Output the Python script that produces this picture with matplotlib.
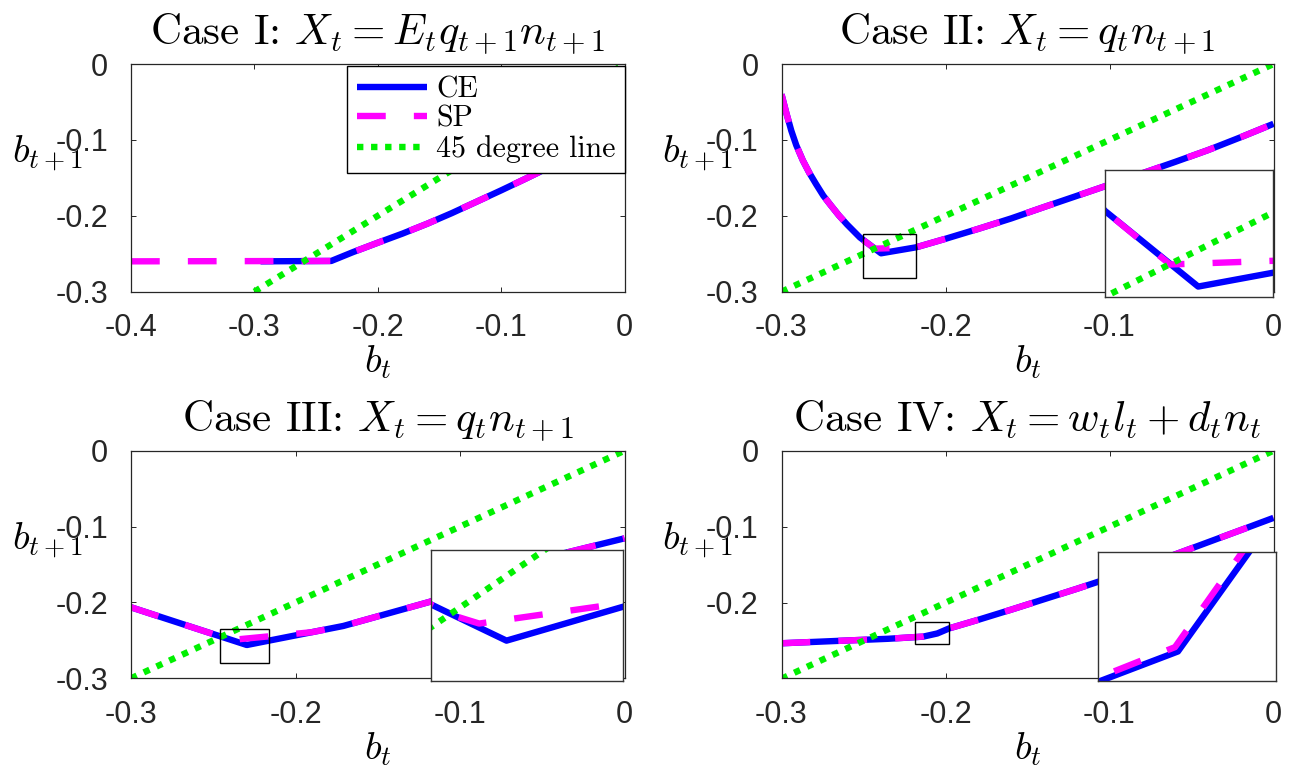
import matplotlib
matplotlib.use("Agg")
import matplotlib.pyplot as plt
from matplotlib.patches import Rectangle

plt.rcParams.update({
    "mathtext.fontset": "cm",
    "axes.unicode_minus": False,
    "font.family": ["Liberation Sans", "DejaVu Sans"],
})

# ---------------- data ----------------
diag_x = [-0.3, 0.0]
diag_y = [-0.3, 0.0]

# Case I
ce1_x = [-0.295, -0.2377, -0.22, -0.20, -0.18, -0.16, -0.14, -0.12, -0.10, -0.08, -0.06, -0.04, -0.02, 0.0]
ce1_y = [-0.260, -0.2595, -0.2478, -0.2355, -0.2235, -0.2105, -0.1965, -0.1815, -0.1665, -0.1510, -0.1352, -0.1195, -0.1025, -0.0850]
sp1_x = [-0.40, -0.2377, -0.22, -0.20, -0.18, -0.16, -0.14, -0.12, -0.10, -0.08, -0.06, -0.04, -0.02, 0.0]
sp1_y = [-0.260, -0.2595, -0.2478, -0.2355, -0.2235, -0.2105, -0.1965, -0.1815, -0.1665, -0.1510, -0.1352, -0.1195, -0.1025, -0.0850]

# Case II
ce2_x = [-0.300, -0.297, -0.294, -0.291, -0.287, -0.283, -0.279, -0.2745, -0.270, -0.265, -0.260, -0.2522,
         -0.2393, -0.2179, -0.200, -0.180, -0.160, -0.140, -0.120, -0.100, -0.080, -0.060, -0.040, -0.020, 0.000]
ce2_y = [-0.040, -0.065, -0.088, -0.107, -0.127, -0.1435, -0.158, -0.1735, -0.186, -0.1995, -0.2115, -0.2285,
         -0.2494, -0.2415, -0.2303, -0.2172, -0.2035, -0.1885, -0.1738, -0.1590, -0.1440, -0.1290, -0.1135, -0.0965, -0.0788]
sp2_x = [-0.300, -0.297, -0.294, -0.291, -0.287, -0.283, -0.279, -0.2745, -0.270, -0.265, -0.260, -0.2522,
         -0.2432, -0.2179, -0.200, -0.180, -0.160, -0.140, -0.120, -0.100, -0.080, -0.060, -0.040, -0.020, 0.000]
sp2_y = [-0.040, -0.065, -0.088, -0.107, -0.127, -0.1435, -0.158, -0.1735, -0.186, -0.1995, -0.2115, -0.2285,
         -0.2433, -0.2415, -0.2303, -0.2172, -0.2035, -0.1885, -0.1738, -0.1590, -0.1440, -0.1290, -0.1135, -0.0965, -0.0788]

# Case III
ce3_x = [-0.300, -0.2296, -0.1709, -0.1181, -0.059, 0.000]
ce3_y = [-0.2064, -0.2561, -0.2310, -0.1990, -0.1470, -0.1155]
sp3_x = [-0.300, -0.2440, -0.2372, -0.190, -0.1709, -0.1181, -0.059, 0.000]
sp3_y = [-0.2064, -0.2460, -0.2491, -0.2392, -0.2310, -0.1990, -0.1470, -0.1155]

# Case IV
ce4_x = [-0.300, -0.235, -0.2137, -0.205, -0.1976, -0.18, -0.16, -0.14, -0.12, -0.10, -0.08, -0.06, -0.04, -0.02, 0.0]
ce4_y = [-0.2534, -0.2475, -0.2447, -0.2405, -0.2337, -0.2225, -0.2092, -0.1955, -0.1818, -0.1675, -0.1520, -0.1365, -0.1205, -0.1045, -0.0884]
sp4_x = [-0.300, -0.235, -0.2139, -0.2053, -0.1976, -0.18, -0.16, -0.14, -0.12, -0.10, -0.08, -0.06, -0.04, -0.02, 0.0]
sp4_y = [-0.2534, -0.2475, -0.2446, -0.2404, -0.2337, -0.2225, -0.2092, -0.1955, -0.1818, -0.1675, -0.1520, -0.1365, -0.1205, -0.1045, -0.0884]

titles = [r"Case I: $X_t = E_t q_{t+1} n_{t+1}$",
          r"Case II: $X_t = q_t n_{t+1}$",
          r"Case III: $X_t = q_t n_{t+1}$",
          r"Case IV: $X_t = w_t l_t + d_t n_t$"]
legend_labels = ["CE", "SP", "45 degree line"]

# zoom windows (main-panel boxes and inset limits)
box2 = [-0.2503, -0.2820, 0.0326, 0.0580]
box3 = [-0.2459, -0.2794, 0.0300, 0.0448]
box4 = [-0.2184, -0.2543, 0.0204, 0.0289]
inset2_lim = ([-0.2522, -0.2289], [-0.2522, -0.2172])
inset3_lim = ([-0.2506, -0.1971], [-0.2725, -0.2190])
inset4_lim = ([-0.2191, -0.2071], [-0.24538, -0.24238])

# ---------------- style ----------------
W, H = 1296, 774
fig = plt.figure(figsize=(W / 100, H / 100), dpi=100)

def px_rect(x0, y0, x1, y1):
    return [x0 / W, 1 - y1 / H, (x1 - x0) / W, (y1 - y0) / H]

CE_C, SP_C, DG_C = "#0000ff", "#ff00ff", "#00f000"
LW = 4.6
AX_C = "#262626"

def draw(ax, cx, cy, sx, sy):
    l1, = ax.plot(cx, cy, color=CE_C, lw=LW, solid_capstyle="butt")
    l2, = ax.plot(sx, sy, color=SP_C, lw=LW, ls=(0, (4.5, 4.4)), dash_capstyle="butt")
    l3, = ax.plot(diag_x, diag_y, color=DG_C, lw=LW, ls=(0, (1, 1.2)), dash_capstyle="butt")
    return l1, l2, l3

def style(ax, xt, xtl, yt, ytl, xlim, ylim, title):
    ax.set_xlim(*xlim)
    ax.set_ylim(*ylim)
    ax.set_xticks(xt)
    ax.set_xticklabels(xtl)
    ax.set_yticks(yt)
    ax.set_yticklabels(ytl)
    ax.tick_params(direction="in", length=3.8, width=0.7, top=True, right=True,
                   labelsize=22, colors=AX_C, labelcolor=AX_C)
    ax.tick_params(axis="x", pad=15.5)
    ax.tick_params(axis="y", pad=16.5)
    for s in ax.spines.values():
        s.set_color(AX_C)
        s.set_linewidth(0.9)
    ax.set_title(title, fontsize=31, fontfamily="cmr10", pad=14)
    ax.set_xlabel(r"$b_t$", fontsize=28, va="baseline")
    ax.xaxis.set_label_coords(0.5, -0.356)
    ax.set_ylabel(r"$b_{t+1}$", fontsize=28, rotation=0, ha="left", va="baseline")
    ax.yaxis.set_label_coords(-0.242, 0.565)

def inset(rect_px, cx, cy, sx, sy, lims):
    a = fig.add_axes(px_rect(*rect_px))
    draw(a, cx, cy, sx, sy)
    a.set_xlim(*lims[0])
    a.set_ylim(*lims[1])
    a.set_xticks([])
    a.set_yticks([])
    for s in a.spines.values():
        s.set_color("#333333")
        s.set_linewidth(1.0)
    return a

def box(ax, b):
    ax.add_patch(Rectangle((b[0], b[1]), b[2], b[3], fill=False, ec="k", lw=1.0, zorder=6))

xt4 = [-0.4, -0.3, -0.2, -0.1, 0.0]
xt4l = ["-0.4", "-0.3", "-0.2", "-0.1", "0"]
xt3 = [-0.3, -0.2, -0.1, 0.0]
xt3l = ["-0.3", "-0.2", "-0.1", "0"]
yt = [-0.3, -0.2, -0.1, 0.0]
ytl = ["-0.3", "-0.2", "-0.1", "0"]

ax1 = fig.add_axes(px_rect(131, 64, 624.5, 291.7))
ax2 = fig.add_axes(px_rect(781.5, 64, 1273.5, 291.7))
ax3 = fig.add_axes(px_rect(131, 450.7, 624.5, 678.3))
ax4 = fig.add_axes(px_rect(781.5, 450.7, 1273.5, 678.3))

h = draw(ax1, ce1_x, ce1_y, sp1_x, sp1_y)
style(ax1, xt4, xt4l, yt, ytl, (-0.4, 0), (-0.3, 0), titles[0])
leg = ax1.legend(h, legend_labels, loc="upper right", bbox_to_anchor=(1.001, 0.991),
                 borderaxespad=0, fancybox=False, framealpha=1, edgecolor="k",
                 prop={"family": "cmr10", "size": 21.5}, handlelength=2.35,
                 handletextpad=0.3, labelspacing=0.08, borderpad=0.32)
leg.get_frame().set_linewidth(1.0)

draw(ax2, ce2_x, ce2_y, sp2_x, sp2_y)
style(ax2, xt3, xt3l, yt, ytl, (-0.3, 0), (-0.3, 0), titles[1])
box(ax2, box2)

draw(ax3, ce3_x, ce3_y, sp3_x, sp3_y)
style(ax3, xt3, xt3l, yt, ytl, (-0.3, 0), (-0.3, 0), titles[2])
box(ax3, box3)

draw(ax4, ce4_x, ce4_y, sp4_x, sp4_y)
style(ax4, xt3, xt3l, yt[1:], ytl[1:], (-0.3, 0), (-0.2995, 0), titles[3])
box(ax4, box4)

inset((1105, 170, 1273.3, 296.7), ce2_x, ce2_y, sp2_x, sp2_y, inset2_lim)
inset((431, 550, 623.3, 680.7), ce3_x, ce3_y, sp3_x, sp3_y, inset3_lim)
inset((1097.7, 551.7, 1276, 680.7), ce4_x, ce4_y, sp4_x, sp4_y, inset4_lim)

fig.savefig("out.png", dpi=100)
